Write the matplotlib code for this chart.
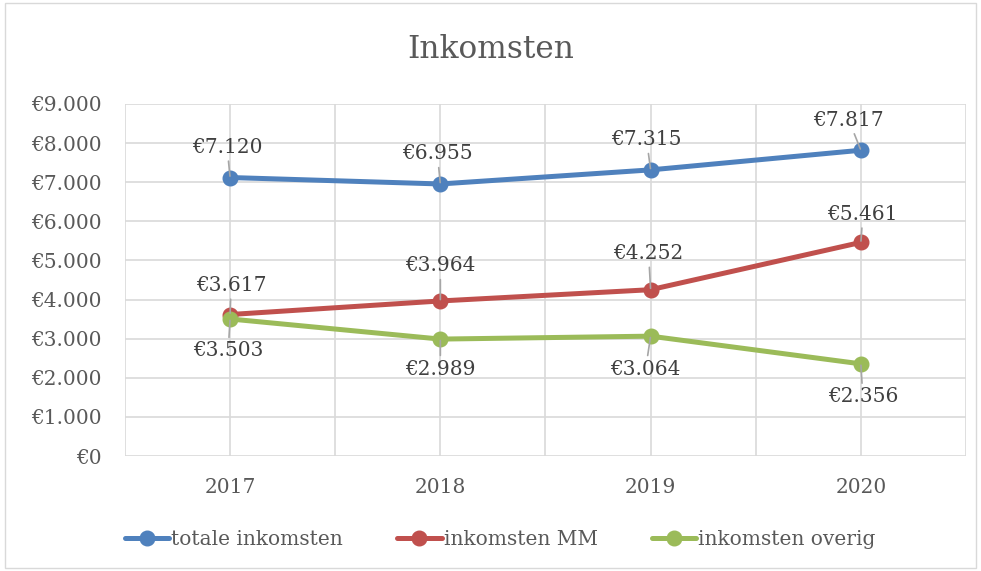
import numpy as np
import matplotlib
matplotlib.use("Agg")
import matplotlib.pyplot as plt
from matplotlib.ticker import FuncFormatter, MultipleLocator
from matplotlib.patches import Rectangle

years = ["2017", "2018", "2019", "2020"]
totaal = [7120, 6955, 7315, 7817]
mm = [3617, 3964, 4252, 5461]
overig = [3503, 2989, 3064, 2356]
namen = ["totale inkomsten", "inkomsten MM", "inkomsten overig"]
kleuren = ["#4F81BD", "#C0504D", "#9BBB59"]

# label offsets in pixels (dx, dy) per series
offsets = [
    [(-3, 30), (-3, 30), (-4, 30), (-12, 30)],
    [(1, 29), (0, 35), (-2, 36), (2, 28)],
    [(-2, -32), (0, -30), (-5, -33), (2, -33)],
]

def euro(v, pos=None):
    return "€" + f"{v:,.0f}".replace(",", ".")

plt.rcParams['font.family'] = ['DejaVu Serif']

fig = plt.figure(figsize=(9.81, 5.71), dpi=100)
fig.patches.append(Rectangle((0.005, 0.005), 0.99, 0.99, transform=fig.transFigure,
                             fill=False, edgecolor="#D9D9D9", linewidth=1))
ax = fig.add_axes([0.1274, 0.2014, 0.8573, 0.6165])

x = np.arange(len(years))
for serie, naam, kleur, offs in zip([totaal, mm, overig], namen, kleuren, offsets):
    ax.plot(x, serie, color=kleur, linewidth=3.6, marker="o", markersize=10.5,
            label=naam, zorder=3, solid_capstyle="round")
    for xi, v, (dx, dy) in zip(x, serie, offs):
        ax.annotate(euro(v), (xi, v), xytext=(dx, dy), textcoords="offset pixels",
                    ha="center", va="center", fontsize=14.5, color="#404040",
                    arrowprops=dict(arrowstyle="-", color="#A6A6A6", lw=1.2,
                                    shrinkA=1, shrinkB=1), zorder=4)

ax.set_xlim(-0.5, 3.5)
ax.set_ylim(0, 9000)
ax.yaxis.set_major_locator(MultipleLocator(1000))
ax.yaxis.set_major_formatter(FuncFormatter(euro))
ax.set_xticks(x)
ax.set_xticklabels(years)
ax.set_xticks(np.arange(-0.5, 4, 0.5), minor=True)
ax.grid(True, which="both", axis="x", color="#D9D9D9", linewidth=1.2)
ax.grid(True, which="major", axis="y", color="#D9D9D9", linewidth=1.2)
ax.set_axisbelow(True)
for s in ax.spines.values():
    s.set_visible(False)
ax.tick_params(axis="both", which="both", length=0, labelsize=14.5, labelcolor="#595959")
ax.tick_params(axis="x", pad=16)
ax.tick_params(axis="y", pad=17)

fig.text(0.5, 0.913, "Inkomsten", ha="center", va="center", fontsize=22.5, color="#595959")

fig.legend(loc="center", bbox_to_anchor=(0.51, 0.055), ncol=3, frameon=False,
           fontsize=14.5, labelcolor="#595959", handlelength=2.2, handletextpad=0.1,
           columnspacing=2.7)

plt.savefig("out.png", dpi=100)
